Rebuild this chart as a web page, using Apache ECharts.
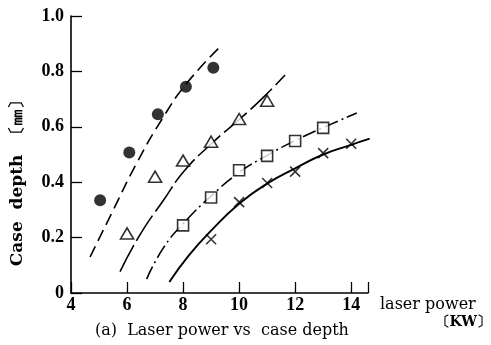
<!DOCTYPE html>
<html><head><meta charset="utf-8">
<script src="https://cdn.jsdelivr.net/npm/echarts@6/dist/echarts.min.js"></script>
<style>html,body{margin:0;padding:0;background:#fff}#c{width:491px;height:345px}</style>
</head><body><div id="c"></div>
<script>
// ---- data ----
const xTicks = [4, 6, 8, 10, 12, 14];
const yTicks = [0, 0.2, 0.4, 0.6, 0.8, 1.0];

const circleX = [5.04, 6.08, 7.1, 8.1, 9.08];
const circleY = [0.335, 0.507, 0.645, 0.745, 0.813];
const triangleX = [6, 7, 8, 9, 10, 11];
const triangleY = [0.215, 0.42, 0.478, 0.546, 0.628, 0.694];
const squareX = [8, 9, 10, 11, 12, 13];
const squareY = [0.244, 0.345, 0.443, 0.495, 0.549, 0.596];
const crossX = [9, 10, 11, 12, 13, 14];
const crossY = [0.194, 0.328, 0.397, 0.438, 0.505, 0.539];

const curve1X = [4.68, 5.51, 6.35, 7.3, 8.13, 9.38];
const curve1Y = [0.13, 0.30, 0.47, 0.636, 0.757, 0.895];
const curve2X = [5.75, 6.46, 7.3, 8.07, 9.08, 10.1, 10.9, 11.64];
const curve2Y = [0.077, 0.21, 0.335, 0.444, 0.545, 0.635, 0.71, 0.787];
const curve3X = [6.7, 7.28, 8, 9, 10, 11, 12, 13, 14.2];
const curve3Y = [0.05, 0.16, 0.25, 0.35, 0.435, 0.497, 0.55, 0.597, 0.65];
const curve4X = [7.51, 8.2, 9, 10, 11, 12, 13, 14, 14.66];
const curve4Y = [0.04, 0.135, 0.225, 0.322, 0.395, 0.45, 0.5, 0.535, 0.557];

const zip = (xs, ys) => xs.map((x, i) => [x, ys[i]]);

const chart = echarts.init(document.getElementById('c'), null, {renderer: 'canvas'});
const serif = 'Liberation Serif';
const lineSeries = (name, xs, ys, type, width) => ({
  name, type: 'line', data: zip(xs, ys), smooth: 0.5, showSymbol: false, symbol: 'none',
  lineStyle: {color: '#000', width: width, type: type}, z: 2, silent: true
});
const markSeries = (name, xs, ys, symbol, size, style) => ({
  name, type: 'scatter', data: zip(xs, ys), symbol, symbolSize: size,
  itemStyle: style, z: 5, silent: true
});

chart.setOption({
  animation: false,
  backgroundColor: '#fff',
  grid: {left: 71, right: 123, top: 16, bottom: 52, containLabel: false, outerBoundsMode: 'none'},
  xAxis: {
    type: 'value', min: 4, max: 14.6, interval: 2,
    axisLine: {lineStyle: {color: '#000', width: 1.6}},
    axisTick: {show: true, inside: true, length: 11, lineStyle: {color: '#000', width: 1.3}},
    axisLabel: {customValues: xTicks, margin: 3, color: '#000', fontFamily: serif, fontSize: 18, fontWeight: 'bold'},
    splitLine: {show: false}
  },
  yAxis: {
    type: 'value', min: 0, max: 1, interval: 0.2,
    axisLine: {show: true, lineStyle: {color: '#000', width: 1.6}},
    axisTick: {show: true, inside: true, length: 11, lineStyle: {color: '#000', width: 1.3}},
    axisLabel: {customValues: yTicks, margin: 7, color: '#000', fontFamily: serif, fontSize: 18, fontWeight: 'bold',
      formatter: v => v === 0 ? '0' : v.toFixed(1)},
    splitLine: {show: false}
  },
  series: [
    lineSeries('curve1', curve1X, curve1Y, [12, 6], 1.6),
    lineSeries('curve2', curve2X, curve2Y, [30, 5], 1.6),
    lineSeries('curve3', curve3X, curve3Y, [14, 4, 2, 4], 1.6),
    lineSeries('curve4', curve4X, curve4Y, 'solid', 1.9),
    markSeries('circle', circleX, circleY, 'circle', 12, {color: '#000'}),
    markSeries('triangle', triangleX, triangleY, 'triangle', [13, 11], {color: '#fff', borderColor: '#000', borderWidth: 1.6}),
    markSeries('square', squareX, squareY, 'rect', 11, {color: '#fff', borderColor: '#000', borderWidth: 1.6}),
    markSeries('cross', crossX, crossY, 'path://M0,0L10,10M0,10L10,0', 10, {color: 'none', borderColor: '#000', borderWidth: 1.6})
  ],
  graphic: [
    {type: 'text', x: 18, y: 179, rotation: Math.PI / 2,
      style: {text: 'Case  depth  〔㎜〕', fill: '#000', font: 'bold 17px "DejaVu Serif"', align: 'center', verticalAlign: 'middle'}},
    {type: 'text', x: 380, y: 305,
      style: {text: 'laser power', fill: '#000', font: '16px "DejaVu Serif"', align: 'left', verticalAlign: 'middle'}},
    {type: 'text', x: 491, y: 322,
      style: {text: '〔KW〕', fill: '#000', font: 'bold 14px "DejaVu Serif"', align: 'right', verticalAlign: 'middle'}},
    {type: 'text', x: 95, y: 331,
      style: {text: '(a)  Laser power vs  case depth', fill: '#000', font: '16px "DejaVu Serif"', align: 'left', verticalAlign: 'middle'}}
  ]
});
</script></body></html>
